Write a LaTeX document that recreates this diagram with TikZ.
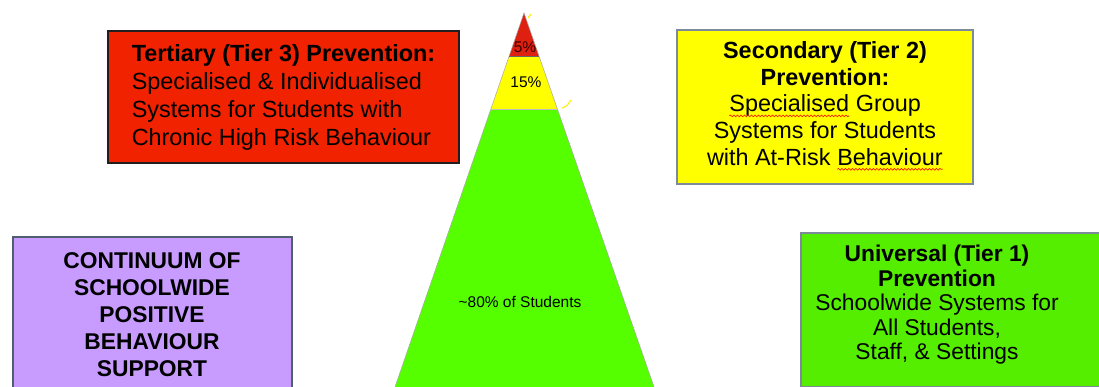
\documentclass[tikz,border=0pt]{standalone}
\usepackage{fontspec}
\setmainfont{Liberation Sans}
\usetikzlibrary{calc,decorations.pathmorphing}
\definecolor{boxred}{RGB}{240,34,0}
\definecolor{trired}{RGB}{222,32,16}
\definecolor{bandyellow}{RGB}{255,255,0}
\definecolor{trigreen}{RGB}{85,255,0}
\definecolor{boxgreen}{RGB}{86,238,0}
\definecolor{boxpurple}{RGB}{200,155,255}
\definecolor{slateedge}{RGB}{80,94,110}
\definecolor{greyedge}{RGB}{125,138,155}
\definecolor{darkedge}{RGB}{35,30,30}
\newcommand\redwave[2]{\tikz[baseline=(#1.base)]{\node[inner sep=0pt, outer sep=0pt,
  minimum width=0pt, minimum height=0pt, draw=none, fill=none, align=left, anchor=center] (#1) {#2};
  \draw[red, fill=none, line width=0.6pt, decorate, decoration={snake, amplitude=0.9pt, segment length=3.5pt}]
  ([yshift=-4pt]#1.base west) -- ([yshift=-4pt]#1.base east);}}
\begin{document}
\begin{tikzpicture}[x=1pt,y=-1pt,
  tierbox/.style={rectangle, inner sep=0pt, line width=1.6pt},
  bigtext/.style={font=\fontsize{23.4}{28}\selectfont, text=black},
  pct/.style={font=\fontsize{15.5}{17}\selectfont, text=black, inner sep=0pt}]
\useasboundingbox (0,0) rectangle (1099,387);
\fill[white] (0,0) rectangle (1099,387);

% pyramid
\coordinate (apex) at (524,13);
\coordinate (bl) at (395,387);
\coordinate (br) at (654,387);
\coordinate (r1l) at ($(apex)!0.115!(bl)$);
\coordinate (r1r) at ($(apex)!0.115!(br)$);
\coordinate (y1l) at ($(apex)!0.257!(bl)$);
\coordinate (y1r) at ($(apex)!0.257!(br)$);
\fill[trigreen] (y1l) -- (y1r) -- (br) -- (bl) -- cycle;
\fill[bandyellow] (r1l) -- (r1r) -- (y1r) -- (y1l) -- cycle;
\fill[trired] (apex) -- (r1r) -- (r1l) -- cycle;
\draw[gray!70, line width=0.5pt] (bl) -- (apex) -- (br);
\draw[black!60, line width=0.5pt] (r1l) -- (r1r);
\draw[gray!50, line width=0.4pt] (y1l) -- (y1r);
\draw[bandyellow!85!orange, line width=1.1pt] (528,18) -- (531,14);
\draw[bandyellow!85!orange, line width=1.1pt] (562,108) .. controls (567,106) .. (571,100);

\node[pct, text=black!80!red] (p5) at (525,47) {5\%};
\node[pct] (p15) at (526,82) {15\%};
\node[pct] (p80) at (520,302) {\textasciitilde80\% of Students};

% Tier 3
\node[tierbox, fill=boxred, draw=darkedge, minimum width=351, minimum height=132,
      bigtext, align=left] (tier3) at (283.5,97)
  {\textbf{Tertiary (Tier 3) Prevention:}\\Specialised \& Individualised\\Systems for Students with\\Chronic High Risk Behaviour};

% Tier 2
\node[tierbox, fill=bandyellow, draw=greyedge, minimum width=296, minimum height=154] (tier2) at (825,107) {};
\node[font=\fontsize{23.4}{26.7}\selectfont, align=center, inner sep=0pt] (tier2txt) at (825,106)
  {\textbf{Secondary (Tier 2)}\\\textbf{Prevention:}\\\redwave{wa}{Specialised} Group\\Systems for Students\\with At-Risk \redwave{wb}{Behaviour}};

% Tier 1
\node[tierbox, fill=boxgreen, draw=greyedge, minimum width=330, minimum height=154,
      anchor=north west] (tier1) at (800,232) {};
\node[font=\fontsize{22.8}{24.5}\selectfont, align=center, inner sep=0pt] (tier1txt) at (937,305)
  {\textbf{Universal (Tier 1)}\\\textbf{Prevention}\\Schoolwide Systems for\\All Students,\\Staff, \& Settings};

% Continuum
\node[tierbox, fill=boxpurple, draw=slateedge, line width=2.2pt, minimum width=279, minimum height=170,
      anchor=north west] (cont) at (12,236) {};
\node[font=\bfseries\fontsize{22.8}{27}\selectfont, align=center, inner sep=0pt] (conttxt) at (152,315)
  {CONTINUUM OF\\SCHOOLWIDE\\POSITIVE\\BEHAVIOUR\\SUPPORT};
\end{tikzpicture}
\end{document}
